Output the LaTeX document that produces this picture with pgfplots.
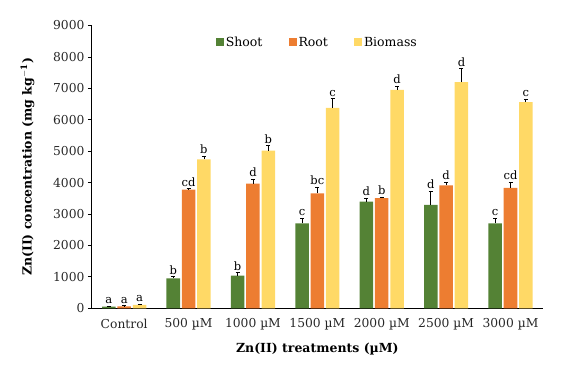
\documentclass[border=0pt]{standalone}
\usepackage{fontspec}
\setmainfont{DejaVu Serif}
\usepackage{pgfplots}
\usepackage{pgfplotstable}
\pgfplotsset{compat=1.18}
\definecolor{cshoot}{HTML}{548235}
\definecolor{croot}{HTML}{ED7D31}
\definecolor{cbio}{HTML}{FFD966}
\pgfplotstableread{
x s se r re b be sl rl bl
0 50 20 60 20 110 30 a a a
1 955 50 3775 30 4740 100 b cd b
2 1040 100 3965 140 5020 160 b d b
3 2705 160 3660 190 6380 285 c bc c
4 3395 115 3510 30 6950 115 d b d
5 3290 445 3915 95 7200 425 d d d
6 2705 160 3830 180 6560 95 c cd c
}\data
\begin{document}
\begin{tikzpicture}
\path (-92pt,-70pt) rectangle (470pt,308.3pt);
\begin{axis}[
  scale only axis, width=450.7pt, height=282.8pt,
  at={(0,0)}, anchor=south west,
  xmin=-0.5, xmax=6.5, ymin=0, ymax=9000,
  axis x line*=bottom, axis y line*=left,
  axis line style={black, line width=1pt},
  xtick={0,...,6},
  xticklabels={Control,500 µM,1000 µM,1500 µM,2000 µM,2500 µM,3000 µM},
  x tick style={draw=none},
  ytick={0,1000,...,9000},
  y tick style={black, line width=0.8pt},
  tick align=outside, major tick length=4pt,
  scaled y ticks=false,
  /pgf/number format/1000 sep={},
  /pgf/number format/assume math mode=true,
  tick label style={font=\fontsize{12.3}{14}\selectfont, text=black!85},
  xticklabel style={yshift=-3pt},
  xlabel={\textbf{Zn(II) treatments (µM)}},
  ylabel={\textbf{Zn(II) concentration (mg kg$^{\mathbf{-1}}$)}},
  label style={font=\fontsize{12.5}{14}\selectfont},
  xlabel style={yshift=-6pt},
  ylabel style={yshift=12pt},
  legend style={at={(0.5,0.975)}, anchor=north, draw=none, fill=none,
    legend columns=3, font=\fontsize{12.5}{14}\selectfont,
    /tikz/every even column/.append style={column sep=24pt}},
  legend image code/.code={\fill[#1] (0pt,-4pt) rectangle (8pt,4pt);},
  error bars/error bar style={black, line width=0.8pt},
  error bars/error mark options={rotate=90, black, mark size=2pt, line width=0.8pt},
  nodes near coords style={font=\fontsize{11.5}{12}\selectfont, anchor=south, inner sep=2pt, text=black},
]
\addplot[ybar, bar width=0.21, bar shift=-0.238, fill=cshoot, draw=none]
  table[x=x, y=s]{\data};
\addlegendentry{Shoot}
\addplot[ybar, bar width=0.21, bar shift=0, fill=croot, draw=none]
  table[x=x, y=r]{\data};
\addlegendentry{Root}
\addplot[ybar, bar width=0.21, bar shift=0.238, fill=cbio, draw=none]
  table[x=x, y=b]{\data};
\addlegendentry{Biomass}
% error bars
\addplot[forget plot, draw=none, mark=none, error bars/.cd, y dir=plus, y explicit]
  table[x expr=\thisrow{x}-0.238, y=s, y error=se]{\data};
\addplot[forget plot, draw=none, mark=none, error bars/.cd, y dir=plus, y explicit]
  table[x=x, y=r, y error=re]{\data};
\addplot[forget plot, draw=none, mark=none, error bars/.cd, y dir=plus, y explicit]
  table[x expr=\thisrow{x}+0.238, y=b, y error=be]{\data};
% significance letters
\addplot[forget plot, draw=none, mark=none, nodes near coords, point meta=explicit symbolic]
  table[x expr=\thisrow{x}-0.238, y expr=\thisrow{s}+\thisrow{se}, meta=sl]{\data};
\addplot[forget plot, draw=none, mark=none, nodes near coords, point meta=explicit symbolic]
  table[x=x, y expr=\thisrow{r}+\thisrow{re}, meta=rl]{\data};
\addplot[forget plot, draw=none, mark=none, nodes near coords, point meta=explicit symbolic]
  table[x expr=\thisrow{x}+0.238, y expr=\thisrow{b}+\thisrow{be}, meta=bl]{\data};
\end{axis}
\end{tikzpicture}
\end{document}
